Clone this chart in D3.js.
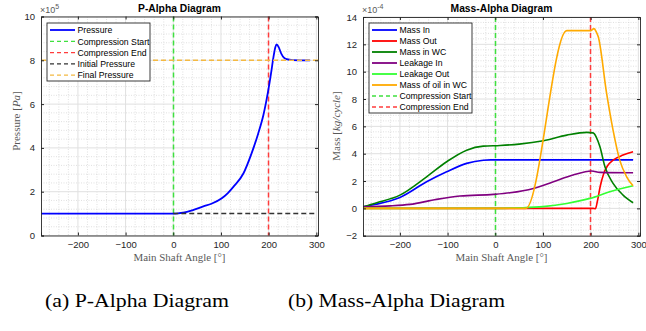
<!DOCTYPE html>
<html>
<head>
<meta charset="utf-8">
<script src="https://cdn.jsdelivr.net/npm/d3@7"></script>
<style>
  body { margin: 0; background: #fff; }
</style>
</head>
<body>
<script>
// P-Alpha data (angle in deg, pressure in 1e5 Pa)
var pressureAngle = [-277, -100, 0, 10, 21, 40, 63, 80, 101, 115, 126, 147, 164, 178, 189, 199, 205, 210, 214, 217, 221, 227, 232, 238, 250, 287];
var pressureValue = [1, 1, 1, 1.01, 1.04, 1.15, 1.33, 1.45, 1.69, 1.95, 2.22, 2.83, 3.74, 4.65, 5.5, 6.6, 7.4, 8.13, 8.6, 8.73, 8.6, 8.28, 8.12, 8.05, 8.01, 8.0];
var compStart = 0;
var compEnd = 198;
var initialPressure = 1;
var finalPressure = 8;

// Mass-Alpha data (angle in deg, mass in 1e-4 kg/cycle)
var massInAngle = [-277, -250, -200, -144, -102, -60, -25, -10, 100, 200, 289];
var massInValue = [0.12, 0.3, 0.8, 1.95, 2.68, 3.29, 3.52, 3.55, 3.55, 3.55, 3.55];
var massOutAngle = [-277, 0, 100, 205, 210, 214, 220, 227, 235, 247, 268, 289];
var massOutValue = [0, 0, 0, 0, -0.03, 0.5, 1.6, 2.5, 3.1, 3.53, 3.9, 4.14];
var massWcAngle = [-277, -250, -200, -144, -102, -60, -25, 10, 50, 101, 150, 192, 205, 212, 219.5, 230, 247, 268, 289];
var massWcValue = [0.12, 0.4, 0.97, 2.31, 3.41, 4.26, 4.55, 4.6, 4.7, 4.95, 5.36, 5.56, 5.52, 5.2, 4.5, 3.04, 1.83, 0.97, 0.41];
var leakInAngle = [-277, -220, -179, -123, -74, -4, 31, 80, 122, 163, 202, 219.5, 289];
var leakInValue = [0.12, 0.18, 0.29, 0.66, 0.9, 1.02, 1.14, 1.46, 1.95, 2.44, 2.73, 2.63, 2.6];
var leakOutAngle = [-277, 0, 50, 100, 150, 198.5, 240, 289];
var leakOutValue = [0, 0, 0.04, 0.13, 0.36, 0.73, 1.21, 1.65];
var oilAngle = [-277, 64, 150, 200, 207, 212, 216, 233.5, 247, 261, 275.5, 289];
var oilValue = [0, 0, 13.0, 13.0, 13.15, 12.9, 12.55, 8.41, 5.73, 3.53, 2.31, 1.65];

var xTicks = [-200, -100, 0, 100, 200, 300];
var pTicks = [0, 2, 4, 6, 8, 10];
var mTicks = [-2, 0, 2, 4, 6, 8, 10, 12, 14];

function zip(a, b) { return a.map(function(x, i) { return [x, b[i]]; }); }

var svg = d3.select("body").append("svg")
  .attr("width", 646)
  .attr("height", 331)
  .attr("font-family", "Liberation Sans, Arial, sans-serif");

var axisColor = "#262626";
var serif = "Liberation Serif, Times New Roman, serif";
var startGreen = "#3fe03f";
var endRed = "#ff3c3c";

function drawPanel(p) {
  var x = d3.scaleLinear().domain([-277.4, 303.5]).range([p.left, p.right]);
  var y = d3.scaleLinear().domain(p.yDomain).range([p.bottom, p.top]);
  var g = svg.append("g");

  // minor grid
  var xMinor = d3.range(-260, 301, 20).filter(function(v) { return v % 100 !== 0; });
  var yMinor = d3.range(p.yDomain[0], p.yDomain[1] + 0.001, 0.4).filter(function(v) { return Math.abs(v / 2 - Math.round(v / 2)) > 0.01; });
  g.selectAll(".xminor").data(xMinor).enter().append("line")
    .attr("x1", function(d) { return x(d); }).attr("x2", function(d) { return x(d); })
    .attr("y1", p.top).attr("y2", p.bottom)
    .attr("stroke", "#d4d4d4").attr("stroke-width", 0.7).attr("stroke-dasharray", "1,1.5");
  g.selectAll(".yminor").data(yMinor).enter().append("line")
    .attr("y1", function(d) { return y(d); }).attr("y2", function(d) { return y(d); })
    .attr("x1", p.left).attr("x2", p.right)
    .attr("stroke", "#d4d4d4").attr("stroke-width", 0.7).attr("stroke-dasharray", "1,1.5");
  // major grid
  g.selectAll(".xmajor").data(xTicks).enter().append("line")
    .attr("x1", function(d) { return x(d); }).attr("x2", function(d) { return x(d); })
    .attr("y1", p.top).attr("y2", p.bottom)
    .attr("stroke", "#e0e0e0").attr("stroke-width", 1);
  g.selectAll(".ymajor").data(p.yTicks).enter().append("line")
    .attr("y1", function(d) { return y(d); }).attr("y2", function(d) { return y(d); })
    .attr("x1", p.left).attr("x2", p.right)
    .attr("stroke", "#e0e0e0").attr("stroke-width", 1);

  // reference lines
  p.refs.forEach(function(r) {
    var ln = g.append("line")
      .attr("stroke", r.color).attr("stroke-width", 1.5).attr("stroke-dasharray", "5,3");
    if (r.vertical) {
      var xv = Math.round(x(r.value)) + 0.5;
      ln.attr("x1", xv).attr("x2", xv).attr("y1", p.top).attr("y2", p.bottom);
    } else {
      ln.attr("y1", y(r.value)).attr("y2", y(r.value))
        .attr("x1", x(r.from)).attr("x2", x(r.to));
    }
    r.node = ln;
  });

  var line = d3.line()
    .x(function(d) { return x(d[0]); })
    .y(function(d) { return y(d[1]); })
    .curve(d3.curveMonotoneX);
  p.series.forEach(function(s) {
    g.append("path")
      .attr("d", line(s.data))
      .attr("fill", "none")
      .attr("stroke", s.color)
      .attr("stroke-width", s.width || 1.6);
  });
  // draw dashed refs over data where needed
  p.refs.forEach(function(r) { if (r.front) g.node().appendChild(r.node.node()); });

  // axes (ticks inward, box on)
  g.append("g").attr("transform", "translate(0," + p.bottom + ")")
    .call(d3.axisBottom(x).tickValues(xTicks).tickSize(-3).tickPadding(6));
  g.append("g").attr("transform", "translate(0," + p.top + ")")
    .call(d3.axisTop(x).tickValues(xTicks).tickSize(-3).tickFormat(""));
  g.append("g").attr("transform", "translate(" + p.left + ",0)")
    .call(d3.axisLeft(y).tickValues(p.yTicks).tickSize(-3).tickPadding(6));
  g.append("g").attr("transform", "translate(" + p.right + ",0)")
    .call(d3.axisRight(y).tickValues(p.yTicks).tickSize(-3).tickFormat(""));
  g.selectAll(".domain").attr("stroke", axisColor).attr("stroke-width", 0.9);
  g.selectAll(".tick line").attr("stroke", axisColor);
  g.selectAll(".tick text").attr("fill", axisColor).attr("font-size", 9.5)
    .attr("font-family", "Liberation Sans, Arial, sans-serif");

  // title
  svg.append("text").attr("x", (p.left + p.right) / 2).attr("y", 12)
    .attr("text-anchor", "middle").attr("font-weight", "bold").attr("font-size", 10.3)
    .attr("fill", "#000").text(p.title);

  // exponent
  var ex = svg.append("text").attr("x", p.left - 1).attr("y", 13)
    .attr("font-size", 9).attr("fill", "#595959");
  ex.append("tspan").text("\u00d710");
  ex.append("tspan").attr("dy", -4).attr("font-size", 7).text(p.exponent);

  // x label
  svg.append("text").attr("x", (p.left + p.right) / 2).attr("y", 261)
    .attr("text-anchor", "middle").attr("font-size", 11)
    .attr("textLength", 92).attr("lengthAdjust", "spacingAndGlyphs")
    .attr("font-family", serif).attr("fill", "#595959")
    .text("Main Shaft Angle [\u00b0]");

  // y label
  var yl = svg.append("text")
    .attr("transform", "translate(" + p.yLabelX + "," + p.yLabelY + ") rotate(-90)")
    .attr("text-anchor", "middle").attr("font-size", 11)
    .attr("font-family", serif).attr("fill", "#595959");
  yl.append("tspan").text(p.yLabel[0] + " [");
  yl.append("tspan").attr("font-style", "italic").text(p.yLabel[1]);
  yl.append("tspan").text("]");

  // legend
  var lg = svg.append("g");
  lg.append("rect").attr("x", p.legend.x).attr("y", p.legend.y)
    .attr("width", p.legend.w).attr("height", p.legend.h)
    .attr("fill", "#fff").attr("stroke", axisColor).attr("stroke-width", 0.9);
  p.legend.items.forEach(function(it, i) {
    var yy = p.legend.y + 7 + i * p.legend.step;
    lg.append("line").attr("x1", p.legend.x + 3).attr("x2", p.legend.x + 28)
      .attr("y1", yy).attr("y2", yy)
      .attr("stroke", it.color).attr("stroke-width", it.dash ? 1.3 : 1.8)
      .attr("stroke-dasharray", it.dash ? "4,3" : null);
    lg.append("text").attr("x", p.legend.x + 30.5).attr("y", yy + 3.2)
      .attr("font-size", 8.7).attr("fill", "#000").text(it.label);
  });

  // caption
  svg.append("text").attr("x", p.captionX).attr("y", 307)
    .attr("text-anchor", "middle").attr("font-size", 18.5)
    .attr("textLength", p.captionW).attr("lengthAdjust", "spacingAndGlyphs")
    .attr("font-family", serif).attr("fill", "#000")
    .text(p.caption);
}

drawPanel({
  left: 41, right: 318, top: 16.5, bottom: 235.5,
  yDomain: [0, 10], yTicks: pTicks,
  title: "P-Alpha Diagram", exponent: "5",
  yLabel: ["Pressure", "Pa"], yLabelX: 19.5, yLabelY: 121,
  caption: "(a) P-Alpha Diagram", captionX: 137, captionW: 184,
  refs: [
    { vertical: true, value: compStart, color: startGreen },
    { vertical: true, value: compEnd, color: endRed },
    { vertical: false, value: initialPressure, from: compStart, to: 300, color: "#333333", front: true },
    { vertical: false, value: finalPressure, from: -277.4, to: 303.5, color: "#f4b942", front: true }
  ],
  series: [
    { data: zip(pressureAngle, pressureValue), color: "#0000ff", width: 1.8 }
  ],
  legend: {
    x: 47, y: 23, w: 103, h: 58, step: 11.3,
    items: [
      { label: "Pressure", color: "#0000ff" },
      { label: "Compression Start", color: startGreen, dash: true },
      { label: "Compression End", color: endRed, dash: true },
      { label: "Initial Pressure", color: "#333333", dash: true },
      { label: "Final Pressure", color: "#f4b942", dash: true }
    ]
  }
});

drawPanel({
  left: 363, right: 640, top: 17, bottom: 235.7,
  yDomain: [-2, 14], yTicks: mTicks,
  title: "Mass-Alpha Diagram", exponent: "-4",
  yLabel: ["Mass", "kg/cycle"], yLabelX: 340, yLabelY: 126,
  caption: "(b) Mass-Alpha Diagram", captionX: 396.5, captionW: 217,
  refs: [
    { vertical: true, value: compStart, color: startGreen },
    { vertical: true, value: compEnd, color: endRed }
  ],
  series: [
    { data: zip(massInAngle, massInValue), color: "#0000ff" },
    { data: zip(massOutAngle, massOutValue), color: "#ff0000" },
    { data: zip(massWcAngle, massWcValue), color: "#008000" },
    { data: zip(leakInAngle, leakInValue), color: "#800080" },
    { data: zip(leakOutAngle, leakOutValue), color: "#33ff33" },
    { data: zip(oilAngle, oilValue), color: "#ffaa00" }
  ],
  legend: {
    x: 369, y: 23, w: 103, h: 90, step: 11,
    items: [
      { label: "Mass In", color: "#0000ff" },
      { label: "Mass Out", color: "#ff0000" },
      { label: "Mass in WC", color: "#008000" },
      { label: "Leakage In", color: "#800080" },
      { label: "Leakage Out", color: "#33ff33" },
      { label: "Mass of oil in WC", color: "#ffaa00" },
      { label: "Compression Start", color: startGreen, dash: true },
      { label: "Compression End", color: endRed, dash: true }
    ]
  }
});
</script>
</body>
</html>
